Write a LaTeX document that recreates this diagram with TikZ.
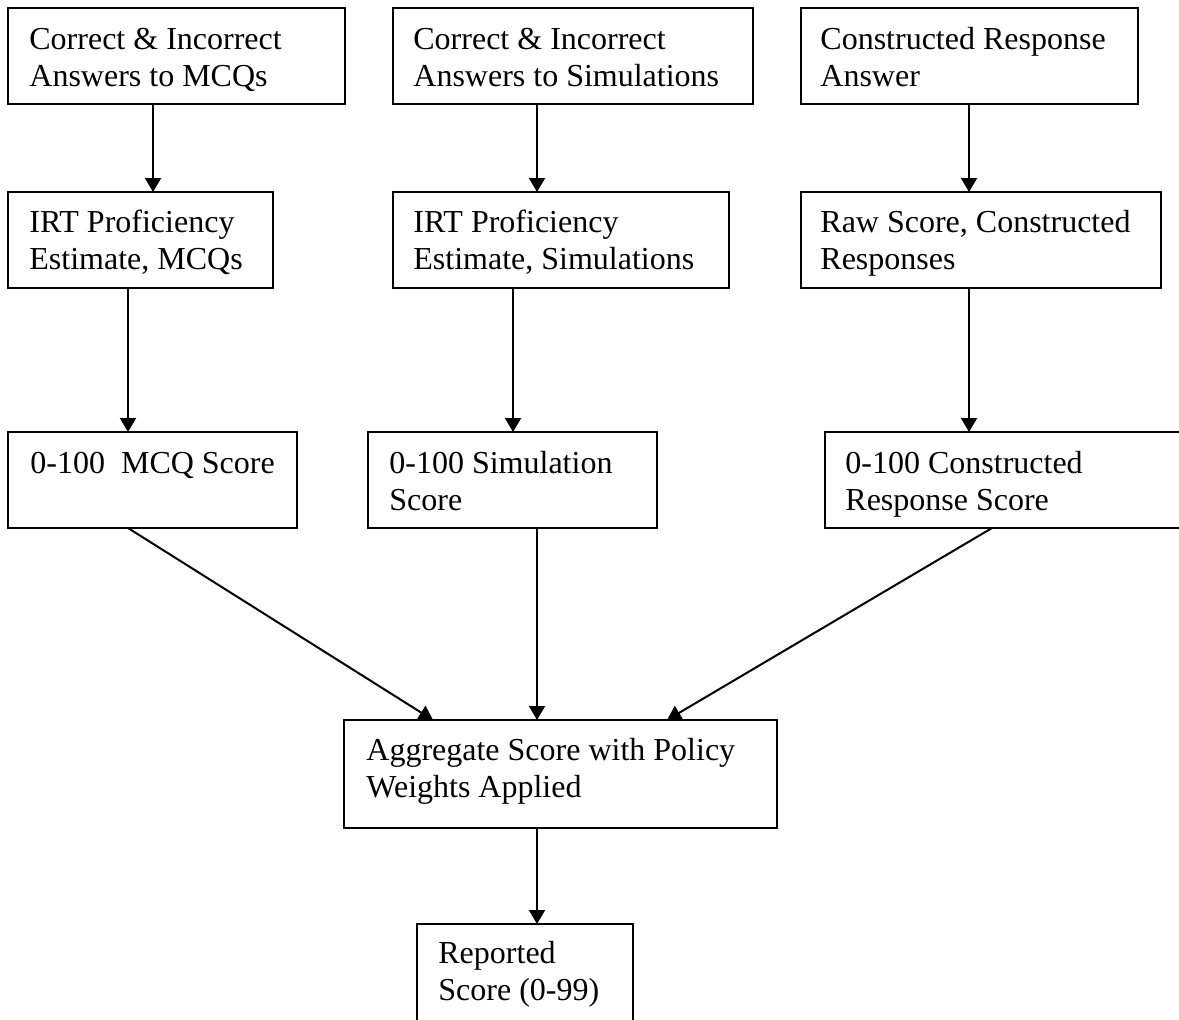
\documentclass[tikz,border=0pt]{standalone}
\usepackage{fontspec}
\setmainfont{Liberation Serif}
\usetikzlibrary{arrows.meta,calc}
\newcommand\mytxt[1]{\begin{tabular}[t]{@{}l@{}}#1\end{tabular}}
\begin{document}
\begin{tikzpicture}[x=0.5pt,y=-0.5pt,
  box/.style={draw, line width=1pt, anchor=north west, inner sep=0pt, outer sep=0pt},
  txt/.style={anchor=base west, inner sep=0pt, font=\fontsize{16}{18.5}\selectfont},
  arr/.style={line width=1pt, -{Triangle[length=7pt,width=8pt]}}]
\clip (0,0) rectangle (1179,1019);
\fill[white] (0,0) rectangle (1179,1019);
% boxes
\node[box, minimum width=168.5pt, minimum height=48pt] (a1) at (8,8) {};
\node[box, minimum width=132.5pt, minimum height=48pt] (a2) at (8,192) {};
\node[box, minimum width=144.5pt, minimum height=48pt] (a3) at (8,432) {};
\node[box, minimum width=180pt, minimum height=48pt] (b1) at (393,8) {};
\node[box, minimum width=168pt, minimum height=48pt] (b2) at (393,192) {};
\node[box, minimum width=144.5pt, minimum height=48pt] (b3) at (368,432) {};
\node[box, minimum width=168.5pt, minimum height=48pt] (c1) at (801,8) {};
\node[box, minimum width=180pt, minimum height=48pt] (c2) at (801,192) {};
\node[box, minimum width=190pt, minimum height=48pt] (c3) at (825,432) {};
\node[box, minimum width=216.5pt, minimum height=54pt] (ag) at (344,720) {};
\node[box, minimum width=108pt, minimum height=60pt] (rp) at (417,924) {};
% texts
\node[txt] (ta1) at ($(a1.north west)+(21,41)$) {\mytxt{Correct \& Incorrect\\Answers to MCQs}};
\node[txt] (ta2) at ($(a2.north west)+(21,40)$) {\mytxt{IRT Proficiency\\Estimate, MCQs}};
\node[txt] (ta3) at ($(a3.north west)+(22,41)$) {\mytxt{0-100~~MCQ Score}};
\node[txt] (tb1) at ($(b1.north west)+(20,41)$) {\mytxt{Correct \& Incorrect\\Answers to Simulations}};
\node[txt] (tb2) at ($(b2.north west)+(20,40)$) {\mytxt{IRT Proficiency\\Estimate, Simulations}};
\node[txt] (tb3) at ($(b3.north west)+(21,41)$) {\mytxt{0-100 Simulation\\Score}};
\node[txt] (tc1) at ($(c1.north west)+(19,41)$) {\mytxt{Constructed Response\\Answer}};
\node[txt] (tc2) at ($(c2.north west)+(19,40)$) {\mytxt{Raw Score, Constructed\\Responses}};
\node[txt] (tc3) at ($(c3.north west)+(20,41)$) {\mytxt{0-100 Constructed\\Response Score}};
\node[txt] (tag) at ($(ag.north west)+(22,40)$) {\mytxt{Aggregate Score with Policy\\Weights Applied}};
\node[txt] (trp) at ($(rp.north west)+(21,39)$) {\mytxt{Reported\\Score (0-99)}};
% connectors
\draw[arr] ($(a1.south west)+(145,0)$) -- ($(a2.north west)+(145,0)$);
\draw[arr] ($(a2.south west)+(120,0)$) -- ($(a3.north west)+(120,0)$);
\draw[arr] ($(b1.south west)+(144,0)$) -- ($(b2.north west)+(144,0)$);
\draw[arr] ($(b2.south west)+(120,0)$) -- ($(b3.north west)+(145,0)$);
\draw[arr] ($(c1.south west)+(168,0)$) -- ($(c2.north west)+(168,0)$);
\draw[arr] ($(c2.south west)+(168,0)$) -- ($(c3.north west)+(144,0)$);
\draw[arr] ($(a3.south west)+(120,0)$) -- ($(ag.north west)+(89,0)$);
\draw[arr] ($(b3.south west)+(169,0)$) -- ($(ag.north west)+(193,0)$);
\draw[arr] ($(c3.south west)+(167,0)$) -- ($(ag.north west)+(323,0)$);
\draw[arr] ($(ag.south west)+(193,0)$) -- ($(rp.north west)+(120,0)$);
\end{tikzpicture}
\end{document}
